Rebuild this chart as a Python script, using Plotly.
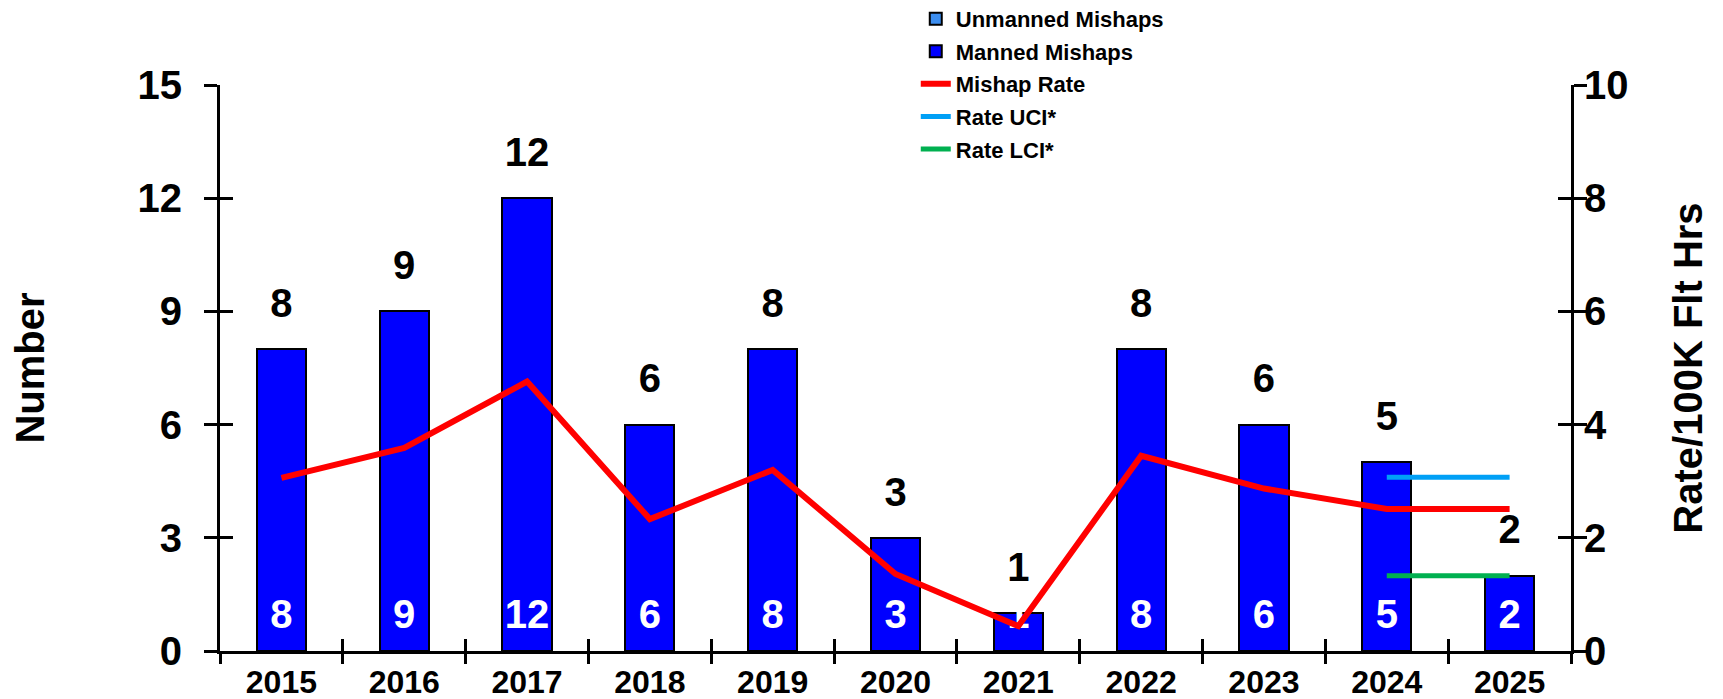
import plotly.graph_objects as go

# ---- data ----
years = ["2015", "2016", "2017", "2018", "2019", "2020", "2021", "2022", "2023", "2024", "2025"]
manned = [8, 9, 12, 6, 8, 3, 1, 8, 6, 5, 2]
unmanned = [0, 0, 0, 0, 0, 0, 0, 0, 0, 0, 0]
rate = [3.06, 3.59, 4.76, 2.33, 3.20, 1.36, 0.44, 3.45, 2.87, 2.51, 2.51]
ci_years = ["2024", "2025"]
rate_uci = [3.07, 3.07]
rate_lci = [1.33, 1.33]
totals = [m + u for m, u in zip(manned, unmanned)]
base = [0 for _ in years]

FONT = "Liberation Sans, Arial, sans-serif"

fig = go.Figure()

fig.add_trace(go.Bar(
    x=years, y=unmanned, name="Unmanned Mishaps",
    marker=dict(color="#3C8EF0", line=dict(color="black", width=2)),
    legendgroup="g1", xaxis="x", yaxis="y", hoverinfo="skip"))
fig.add_trace(go.Bar(
    x=years, y=manned, name="Manned Mishaps",
    marker=dict(color="#0000FF", line=dict(color="black", width=2)),
    legendgroup="g2", xaxis="x", yaxis="y", hoverinfo="skip"))

# value labels (on overlay axis y3, which also carries the inner tick marks)
fig.add_trace(go.Scatter(
    x=years, y=totals, text=[str(t) for t in totals], mode="markers+text",
    marker=dict(size=34, color="rgba(0,0,0,0)"), textposition="top center",
    textfont=dict(family=FONT, size=40, color="black", weight="bold"),
    showlegend=False, cliponaxis=False, xaxis="x", yaxis="y3", hoverinfo="skip"))
fig.add_trace(go.Scatter(
    x=years, y=base, text=[str(m) for m in manned], mode="markers+text",
    marker=dict(size=19, color="rgba(0,0,0,0)"), textposition="top center",
    textfont=dict(family=FONT, size=40, color="white", weight="bold"),
    showlegend=False, cliponaxis=False, xaxis="x", yaxis="y3", hoverinfo="skip"))

fig.add_trace(go.Scatter(
    x=years, y=rate, name="Mishap Rate", mode="lines",
    line=dict(color="#FF0000", width=6),
    legendgroup="g3", xaxis="x2", yaxis="y2", hoverinfo="skip"))
fig.add_trace(go.Scatter(
    x=ci_years, y=rate_uci, name="Rate UCI*", mode="lines",
    line=dict(color="#00A0F6", width=5),
    legendgroup="g4", xaxis="x2", yaxis="y4", hoverinfo="skip"))
fig.add_trace(go.Scatter(
    x=ci_years, y=rate_lci, name="Rate LCI*", mode="lines",
    line=dict(color="#00B050", width=5),
    legendgroup="g5", xaxis="x2", yaxis="y4", hoverinfo="skip"))

axis_common = dict(showgrid=False, zeroline=False, linecolor="black", linewidth=3,
                   tickcolor="black", tickwidth=3, fixedrange=True)
# overlay axes carry the inner half of the crossing tick marks
overlay_common = dict(showgrid=False, zeroline=False, showline=True,
                      linecolor="rgba(0,0,0,0)", linewidth=3,
                      tickcolor="black", tickwidth=3, fixedrange=True,
                      showticklabels=False)

fig.update_layout(
    width=1723, height=699,
    margin=dict(l=212, r=160, t=77, b=56, autoexpand=False),
    paper_bgcolor="white", plot_bgcolor="white",
    barmode="stack", bargap=0.6,
    font=dict(family=FONT, color="black"),
    showlegend=True,
    legend=dict(x=0.515, y=1.154, xanchor="left", yanchor="top",
                bgcolor="rgba(0,0,0,0)", traceorder="grouped", tracegroupgap=1,
                font=dict(family=FONT, size=22, color="black", weight="bold")),
    xaxis=dict(type="category", categoryorder="array", categoryarray=years,
               range=[-0.5, 10.5], tickson="boundaries", ticks="outside", ticklen=10,
               showline=True, anchor="y",
               tickfont=dict(family=FONT, size=32, weight="bold"), ticklabelstandoff=1,
               **axis_common),
    xaxis2=dict(type="category", categoryorder="array", categoryarray=years,
                range=[-0.5, 10.5], tickson="boundaries", ticks="inside", ticklen=12,
                overlaying="x", anchor="y", side="bottom", **overlay_common),
    yaxis=dict(range=[0, 15], dtick=3, tick0=0, ticks="outside", ticklen=13,
               showline=True, anchor="x", side="left",
               tickfont=dict(family=FONT, size=40, weight="bold"), ticklabelstandoff=14,
               title=dict(text="Number", standoff=91,
                          font=dict(family=FONT, size=40, weight="bold")),
               **axis_common),
    yaxis2=dict(range=[0, 10], dtick=2, tick0=0, ticks="outside", ticklen=13,
                showline=True, overlaying="y", side="right", anchor="x",
                tickfont=dict(family=FONT, size=40, weight="bold"), ticklabelstandoff=-11,
                title=dict(text="Rate/100K Flt Hrs", standoff=47,
                           font=dict(family=FONT, size=40, weight="bold")),
                **axis_common),
    yaxis3=dict(range=[0, 15], dtick=3, tick0=0, ticks="inside", ticklen=13,
                overlaying="y", side="left", anchor="x", **overlay_common),
    yaxis4=dict(range=[0, 10], dtick=2, tick0=0, ticks="inside", ticklen=13,
                overlaying="y", side="right", anchor="x", **overlay_common),
)

fig.write_html("out.html")
